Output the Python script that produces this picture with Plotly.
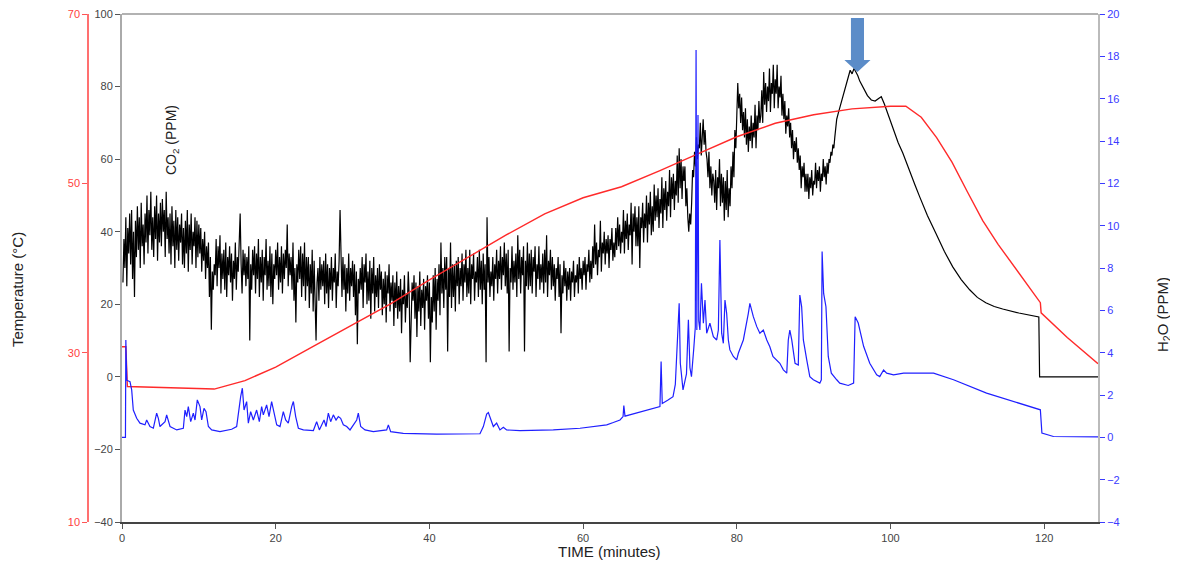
import numpy as np
import plotly.graph_objects as go

# ---------------- DATA ----------------
# CO2 (PPM), noisy part sampled every 0.125 min from 0.125 to 93.0 min (one row = one minute)
co2_noisy = [
    26, 38, 30, 44, 25, 41, 34, 45,
    31, 46, 27, 40, 22, 43, 33, 47,
    35, 44, 30, 48, 36, 42, 31, 45,
    37, 50, 34, 46, 39, 51, 35, 44,
    33, 47, 38, 50, 32, 45, 37, 48,
    36, 49, 40, 46, 33, 51, 38, 44,
    34, 45, 31, 47, 36, 43, 30, 46,
    35, 44, 32, 42, 37, 45, 31, 41,
    30, 43, 34, 46, 29, 42, 35, 45,
    31, 40, 36, 44, 30, 43, 33, 42,
    34, 41, 29, 38, 32, 40, 27, 36,
    30, 37, 22, 33, 13, 29, 24, 31,
    28, 38, 25, 36, 30, 39, 23, 34,
    27, 35, 24, 37, 22, 33, 28, 36,
    26, 34, 21, 32, 27, 37, 24, 33,
    29, 38, 45, 31, 23, 35, 28, 34,
    25, 33, 27, 36, 10, 31, 24, 35,
    28, 36, 23, 34, 27, 38, 22, 33,
    26, 35, 21, 33, 28, 38, 24, 32,
    25, 36, 22, 34, 20, 31, 27, 35,
    28, 37, 24, 33, 26, 36, 23, 34,
    27, 35, 30, 42, 25, 34, 28, 33,
    24, 37, 21, 30, 15, 31, 26, 35,
    27, 36, 22, 34, 25, 37, 21, 33,
    25, 33, 19, 31, 23, 35, 18, 32,
    22, 10, 26, 30, 21, 33, 24, 31,
    25, 32, 20, 34, 23, 31, 19, 30,
    24, 33, 21, 30, 26, 34, 19, 29,
    25, 32, 46, 29, 22, 33, 24, 31,
    18, 30, 23, 34, 21, 30, 25, 32,
    22, 31, 17, 29, 9, 27, 23, 30,
    24, 33, 19, 31, 26, 34, 20, 29,
    21, 32, 16, 30, 23, 33, 18, 28,
    22, 30, 19, 31, 24, 29, 17, 27,
    20, 29, 15, 28, 23, 31, 18, 26,
    21, 28, 14, 26, 19, 29, 16, 25,
    18, 27, 12, 24, 20, 28, 15, 23,
    19, 29, 22, 4, 17, 26, 21, 28,
    16, 26, 11, 25, 18, 29, 14, 24,
    19, 27, 13, 25, 21, 28, 16, 26,
    4, 22, 15, 28, 18, 30, 13, 27,
    21, 31, 17, 37, 23, 30, 19, 33,
    24, 33, 7, 30, 22, 37, 19, 31,
    22, 31, 18, 32, 25, 33, 20, 30,
    25, 34, 21, 31, 26, 35, 22, 30,
    23, 35, 20, 31, 27, 34, 21, 29,
    26, 33, 22, 35, 24, 32, 20, 34,
    24, 31, 4, 44, 26, 33, 22, 29,
    25, 33, 21, 31, 27, 35, 23, 32,
    27, 36, 24, 33, 28, 37, 25, 34,
    23, 35, 7, 30, 26, 36, 24, 32,
    26, 34, 22, 39, 27, 35, 23, 33,
    28, 36, 7, 32, 25, 37, 24, 34,
    25, 35, 23, 33, 29, 36, 22, 31,
    27, 36, 24, 31, 26, 34, 23, 35,
    26, 39, 22, 32, 28, 35, 24, 33,
    25, 31, 21, 30, 27, 33, 22, 31,
    12, 28, 23, 32, 25, 30, 21, 29,
    24, 30, 21, 29, 26, 32, 22, 28,
    26, 31, 23, 33, 27, 30, 24, 32,
    28, 33, 24, 31, 29, 35, 26, 32,
    27, 36, 30, 42, 31, 37, 28, 35,
    33, 43, 29, 37, 34, 40, 31, 38,
    34, 39, 30, 38, 35, 41, 32, 37,
    33, 41, 35, 44, 36, 42, 34, 40,
    37, 46, 34, 43, 38, 45, 35, 42,
    39, 48, 31, 45, 40, 47, 36, 44,
    36, 47, 30, 44, 41, 48, 37, 45,
    41, 50, 37, 48, 42, 51, 39, 47,
    40, 53, 43, 50, 44, 52, 41, 49,
    45, 55, 41, 52, 46, 54, 43, 51,
    47, 57, 44, 55, 49, 56, 46, 54,
    50, 61, 48, 63, 52, 60, 49, 58,
    54, 58, 47, 52, 44, 40, 45, 42,
    48, 57, 55, 62, 58, 66, 60, 64,
    63, 70, 61, 66, 71, 64, 68, 62,
    60, 55, 62, 52, 58, 50, 56, 54,
    48, 57, 46, 55, 52, 60, 47, 56,
    48, 55, 43, 54, 46, 57, 44, 52,
    47, 58, 52, 62, 55, 68, 63, 72,
    81, 74, 78, 70, 77, 68, 73, 66,
    74, 64, 71, 62, 69, 65, 72, 63,
    70, 66, 75, 63, 72, 68, 76, 70,
    72, 79, 70, 84, 75, 81, 73, 80,
    76, 85, 73, 81, 78, 86, 74, 82,
    78, 86, 74, 80, 77, 83, 72, 78,
    71, 76, 67, 72, 69, 74, 66, 70,
    63, 68, 60, 65, 62, 66, 59, 63,
    57, 61, 52, 58, 55, 59, 51, 56,
    51, 56, 49, 55, 52, 57, 50, 54,
    53, 59, 52, 57, 54, 58, 51, 56,
    54, 60, 55, 58, 53, 59, 56, 60,
    59, 62, 61, 64, 63, 66, 68, 71,
]
co2_step = 0.125
co2_noisy_time = np.arange(1, len(co2_noisy) + 1) * co2_step

# CO2 after the peak (smooth decay, then step)
co2_tail_time = [93.25, 93.5, 93.75, 94.0, 94.25, 94.5, 94.75, 95.0, 95.25, 95.5, 95.75, 96.0,
                 96.5, 97.0, 97.5, 98.0, 98.5, 98.8, 99.2, 99.9, 100.5, 101.0, 101.6, 102.5,
                 103.2, 103.8, 104.8, 105.9, 107.0, 108.1, 109.2, 110.3, 111.3, 112.4, 113.5,
                 114.6, 116.7, 119.3, 119.4, 127.0]
co2_tail = [73, 75, 77, 79, 81, 83, 84.5, 83.5, 85, 84, 83, 81.5,
            79.5, 77.5, 76.3, 76.0, 76.8, 77.2, 75.2, 70.8, 67.5, 64.5, 61.7, 56.5,
            52.8, 49.6, 44.5, 39.6, 34.6, 30.3, 26.8, 24.0, 21.9, 20.4, 19.4,
            18.7, 17.6, 16.5, 0.0, 0.0]

# Temperature (deg C)
temp_time = [0, 0.5, 0.7, 5, 12, 16, 20, 25, 30, 35, 40, 45, 50, 55, 60, 65, 70, 75, 80, 85,
             90, 95, 100, 102, 104, 106, 108, 110, 112, 114, 116, 118, 119.5, 119.6, 123, 127]
temp = [30.7, 30.7, 26.0, 25.9, 25.7, 26.7, 28.3, 30.8, 33.3, 35.8, 38.6, 41.3, 43.9, 46.4, 48.3,
        49.6, 51.5, 53.5, 55.5, 57.1, 58.1, 58.8, 59.1, 59.1, 57.8, 55.4, 52.5, 49.0, 45.6, 42.8,
        40.3, 37.8, 35.9, 34.7, 31.8, 28.7]

# H2O (PPM)
h2o_time = [0.0, 0.45, 0.5, 0.62, 1.04, 1.26, 1.47, 1.91, 2.34, 2.99, 3.21, 3.64, 4.08, 4.51, 4.73,
            4.94, 5.6, 5.81, 6.25, 7.12, 7.98, 8.2, 8.42, 8.63, 8.94, 9.28, 9.5, 9.8, 10.15, 10.37,
            10.67, 10.93, 11.24, 11.67, 12.75, 13.62, 14.27, 14.92, 15.14, 15.44, 15.66, 15.88,
            16.22, 16.44, 16.74, 17.09, 17.52, 17.87, 18.17, 18.39, 18.82, 19.13, 19.47, 19.78,
            20.13, 20.56, 20.99, 21.3, 21.64, 22.08, 22.3, 22.6, 22.95, 23.6, 24.9, 25.33, 25.68,
            26.29, 26.55, 26.85, 27.15, 27.5, 27.85, 28.15, 28.45, 28.8, 29.24, 29.67, 30.54,
            30.75, 31.06, 31.62, 32.7, 34.44, 34.66, 34.96, 36.6, 40.95, 46.58, 47.02, 47.45,
            47.67, 47.97, 48.32, 48.75, 49.18, 49.62, 50.05, 51.79, 56.12, 59.6, 61.33, 63.07,
            63.93, 64.8,
            65.2, 65.3, 65.45, 67.4, 69.6, 70.0, 70.15, 70.3, 71.0, 71.7, 72.0, 72.35, 72.5, 72.65,
            73.0, 73.45, 73.7, 73.9, 74.1, 74.4, 74.6, 74.7, 74.8, 74.95, 75.05,
            75.2, 75.4, 75.65, 75.86, 76.08, 76.5, 76.95, 77.38, 77.6, 77.8, 78.03, 78.25, 78.46,
            78.68, 78.9, 79.1, 79.55, 79.98, 80.2, 80.85, 81.5, 81.7, 82.15, 82.6, 83.0, 83.45,
            83.9, 84.3, 84.7, 85.2, 85.6, 86.06, 86.5, 86.7, 86.9, 87.15, 87.58, 88.0, 88.2,
            88.44, 88.66, 89.1, 89.5, 89.96, 90.8, 91.0, 91.1, 91.3, 91.6, 91.9, 92.3, 93.0,
            93.4, 94.5, 95.2, 95.4, 95.8, 96.5, 97.3, 98.2, 98.6, 99.1, 99.5, 100.4, 101.7,
            105.6, 108.2, 112.5, 116.9, 119.5, 119.7, 121.2, 127.0]
h2o = [0.0, 0.0, 4.6, 2.7, 2.63, 2.24, 1.29, 0.9, 0.67, 0.59, 0.82, 0.51, 0.43, 1.14, 0.9,
       0.51, 0.74, 1.06, 0.51, 0.35, 0.43, 1.29, 0.98, 1.45, 0.74, 1.14, 0.82, 1.77, 1.45, 0.82,
       1.37, 1.21, 0.51, 0.35, 0.27, 0.35, 0.38, 0.51, 1.14, 1.92, 2.32, 1.29,
       1.69, 0.67, 1.21, 0.82, 1.29, 0.74, 1.45, 1.06, 1.53, 0.98, 1.69, 1.21,
       0.59, 0.51, 1.21, 0.82, 0.67, 1.45, 1.69, 0.98, 0.43, 0.35, 0.32, 0.74, 0.35,
       0.82, 0.51, 1.14, 0.74, 1.06, 0.82, 0.98, 0.9, 0.59, 0.51, 0.35, 0.82,
       1.14, 0.51, 0.35, 0.27, 0.35, 0.59, 0.27, 0.19, 0.15, 0.17, 0.51, 1.1,
       1.17, 0.82, 0.51, 0.67, 0.35, 0.48, 0.35, 0.32, 0.35, 0.43, 0.51, 0.59,
       0.7, 0.82,
       0.98, 1.5, 1.0, 1.2, 1.4, 1.45, 3.58, 1.6, 1.75, 1.92, 2.5, 5.5, 6.33, 3.5,
       2.24, 3.0, 5.55, 3.3, 2.87, 4.2, 5.2, 18.3, 5.07, 15.23, 5.5,
       5.07, 7.28, 5.39, 6.49, 4.92, 5.39, 4.76, 4.6, 5.07, 9.32, 4.92, 4.44, 6.49,
       5.86, 4.6, 4.13, 3.82, 3.66, 3.97, 4.6, 5.86, 6.33, 5.7, 5.23, 4.92, 5.07,
       4.6, 4.28, 3.82, 3.66, 3.5, 3.19, 3.03, 4.6, 5.07, 4.6, 3.5, 3.42, 6.72,
       6.17, 4.6, 3.66, 2.87, 2.72, 2.56, 2.72, 8.78, 6.8, 6.17, 3.82, 3.03, 2.72,
       2.56, 2.45, 2.56, 5.7, 5.4, 4.3, 3.5, 2.95, 2.87, 3.18, 3.03, 2.95, 3.03,
       3.03, 2.72, 2.09, 1.61, 1.30, 0.2, 0.04, 0.02]

x_ticks = [0, 20, 40, 60, 80, 100, 120]
co2_ticks = [-40, -20, 0, 20, 40, 60, 80, 100]
temp_ticks = [10, 30, 50, 70]
h2o_ticks = [-4, -2, 0, 2, 4, 6, 8, 10, 12, 14, 16, 18, 20]

# arrow marking the CO2 peak (in minutes / CO2 units)
arrow_x = 95.7
arrow_tip, arrow_head_base, arrow_top = 84.0, 87.3, 98.9
arrow_shaft_hw, arrow_head_hw = 0.85, 1.7

# ---------------- FIGURE ----------------
OFF = 8                       # page offset of the plot div
W, H = 1178 - OFF, 565 - OFF  # figure size
L_PX, R_PX = 122 - OFF, 1098 - OFF
T_PX, B_PX = 14 - OFF, 522 - OFF
FONT = "Arial, Liberation Sans, sans-serif"

co2_time = list(co2_noisy_time) + co2_tail_time
co2_all = list(co2_noisy) + co2_tail

fig = go.Figure()
fig.add_trace(go.Scatter(x=co2_time, y=co2_all, mode="lines",
                         line=dict(color="#000000", width=1.2), yaxis="y", hoverinfo="skip"))
fig.add_trace(go.Scatter(x=temp_time, y=temp, mode="lines",
                         line=dict(color="#ff2a2a", width=1.4), yaxis="y2", hoverinfo="skip"))
fig.add_trace(go.Scatter(x=h2o_time, y=h2o, mode="lines",
                         line=dict(color="#1f1fff", width=1.2), yaxis="y3", hoverinfo="skip"))

tickfont = dict(family=FONT, size=11, color="#444444")

fig.update_layout(
    width=W, height=H,
    margin=dict(l=0, r=0, t=T_PX, b=H - B_PX, pad=0),
    plot_bgcolor="white", paper_bgcolor="white",
    showlegend=False,
    xaxis=dict(domain=[L_PX / W, R_PX / W], range=[0, 127], tickvals=x_ticks,
               ticks="outside", ticklen=5, tickcolor="#555555", showline=True,
               linecolor="#444444", linewidth=1.5, showgrid=False, zeroline=False,
               tickfont=tickfont, automargin=False, anchor="y",
               ticklabeloverflow="allow"),
    yaxis=dict(range=[-40, 100], tickvals=co2_ticks, ticks="outside", ticklen=5,
               tickcolor="#555555", showline=True, linecolor="#aaaaaa", linewidth=2,
               showgrid=False, zeroline=False, tickfont=tickfont, automargin=False,
               anchor="x", ticklabeloverflow="allow"),
    yaxis2=dict(range=[10, 70], tickvals=temp_ticks, overlaying="y", anchor="free",
                position=(88 - OFF) / W, side="left", ticks="outside", ticklen=5,
                tickcolor="#ff5555", showline=True, linecolor="#ff7070", linewidth=1.5,
                showgrid=False, zeroline=False,
                tickfont=dict(family=FONT, size=11, color="#ff4040"), automargin=False,
                ticklabeloverflow="allow"),
    yaxis3=dict(range=[-4, 20], tickvals=h2o_ticks, overlaying="y", anchor="x",
                side="right", ticks="outside", ticklen=5, tickcolor="#3a3aff",
                showline=True, linecolor="#bbbbbb", linewidth=2, showgrid=False,
                zeroline=False, tickfont=dict(family=FONT, size=11, color="#3a3aff"),
                automargin=False, ticklabeloverflow="allow"),
)

# top border
fig.add_shape(type="line", xref="paper", yref="paper", x0=L_PX / W, x1=R_PX / W, y0=1, y1=1,
              line=dict(color="#999999", width=1.5))

# arrow
ax = arrow_x
path = (f"M {ax - arrow_shaft_hw},{arrow_top} L {ax + arrow_shaft_hw},{arrow_top} "
        f"L {ax + arrow_shaft_hw},{arrow_head_base} L {ax + arrow_head_hw},{arrow_head_base} "
        f"L {ax},{arrow_tip} L {ax - arrow_head_hw},{arrow_head_base} "
        f"L {ax - arrow_shaft_hw},{arrow_head_base} Z")
fig.add_shape(type="path", xref="x", yref="y", path=path, fillcolor="#5b8cc8",
              line=dict(width=0), layer="above")

plot_h = B_PX - T_PX


def px_to_paper(px):
    return (px - OFF) / W


def py_to_paper(py):
    return (B_PX - (py - OFF)) / plot_h


title_font = dict(family=FONT, size=15, color="#222222")
fig.add_annotation(text="Temperature (°C)", x=px_to_paper(18), y=py_to_paper(290), xref="paper",
                   yref="paper", textangle=-90, showarrow=False, font=title_font,
                   xanchor="center", yanchor="middle")
fig.add_annotation(text="H<sub>2</sub>O (PPM)", x=px_to_paper(1163), y=py_to_paper(315),
                   xref="paper", yref="paper", textangle=-90, showarrow=False, font=title_font,
                   xanchor="center", yanchor="middle")
fig.add_annotation(text="CO<sub>2</sub> (PPM)", x=px_to_paper(172), y=py_to_paper(140),
                   xref="paper", yref="paper", textangle=-90, showarrow=False,
                   font=dict(family=FONT, size=14, color="#222222"),
                   xanchor="center", yanchor="middle")
fig.add_annotation(text="TIME (minutes)", x=px_to_paper(610), y=py_to_paper(551), xref="paper",
                   yref="paper", showarrow=False, font=title_font,
                   xanchor="center", yanchor="middle")

fig.write_html("out.html")
